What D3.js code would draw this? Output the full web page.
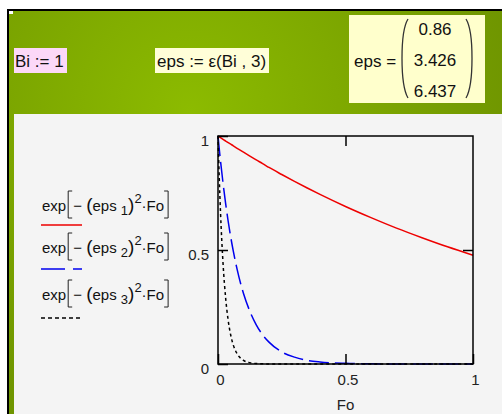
<!DOCTYPE html>
<html><head><meta charset="utf-8">
<script src="https://cdn.jsdelivr.net/npm/d3@7"></script>
<style>body{margin:0;background:#fff}svg{display:block;font-family:"Liberation Sans",Arial,sans-serif}</style>
</head><body>
<svg id="c" width="502" height="414"></svg>
<script>
// ---- data ----
const foValues = [0,0.005,0.01,0.02,0.03,0.04,0.05,0.06,0.075,0.1,0.125,0.15,0.175,0.2,0.25,0.3,0.35,0.4,0.5,0.6,0.7,0.8,0.9,1];
const curve1 = [1,0.996,0.993,0.985,0.978,0.971,0.964,0.957,0.946,0.929,0.912,0.895,0.879,0.862,0.831,0.801,0.772,0.744,0.691,0.642,0.596,0.554,0.514,0.477];
const curve2 = [1,0.943,0.889,0.791,0.703,0.625,0.556,0.495,0.415,0.309,0.231,0.172,0.128,0.096,0.053,0.030,0.016,0.009,0.003,0.001,0,0,0,0];
const curve3 = [1,0.813,0.661,0.437,0.289,0.191,0.126,0.083,0.045,0.016,0.006,0.002,0.001,0,0,0,0,0,0,0,0,0,0,0];
const seriesSubs = ["1","2","3"];
const epsValues = ["0.86","3.426","6.437"];
const xTicks = [0,0.5,1];
const yTicks = [0,0.5,1];
const xTitle = "Fo";

const svg = d3.select("#c");

// ---- background ----
const defs = svg.append("defs");
const rg = defs.append("radialGradient").attr("id","grn").attr("gradientUnits","userSpaceOnUse")
  .attr("cx",190).attr("cy",112).attr("r",330);
rg.append("stop").attr("offset","0").attr("stop-color","#8cbb00");
rg.append("stop").attr("offset","1").attr("stop-color","#6f9500");
svg.append("rect").attr("x",7).attr("y",9).attr("width",495).attr("height",405).attr("fill","#000");
svg.append("rect").attr("x",9).attr("y",11).attr("width",493).attr("height",403).attr("fill","url(#grn)");
svg.append("rect").attr("x",14).attr("y",114).attr("width",488).attr("height",300).attr("fill","#f4f4f4");
svg.append("rect").attr("x",9).attr("y",11).attr("width",4).attr("height",3).attr("fill","#fff");

// ---- header boxes ----
svg.append("rect").attr("x",14).attr("y",48).attr("width",53).attr("height",25).attr("fill","#fcd8f8");
svg.append("text").attr("x",15).attr("y",67).attr("font-size",17).attr("fill","#111").text("Bi := 1");
svg.append("rect").attr("x",155).attr("y",48).attr("width",114).attr("height",25).attr("fill","#fffed8");
svg.append("text").attr("x",157).attr("y",67).attr("font-size",17).attr("fill","#111").text("eps := \u03b5(Bi , 3)");
svg.append("rect").attr("x",349).attr("y",15).attr("width",136).attr("height",88).attr("fill","#ffffcc");
svg.append("text").attr("x",354).attr("y",67).attr("font-size",17).attr("fill","#111").text("eps =");
svg.append("path").attr("d","M408,19 C400,32 400,84 408,98").attr("fill","none").attr("stroke","#333").attr("stroke-width",1.3);
svg.append("path").attr("d","M466,19 C474,32 474,84 466,98").attr("fill","none").attr("stroke","#333").attr("stroke-width",1.3);
svg.selectAll("text.ev").data(epsValues).enter().append("text").attr("class","ev")
  .attr("x",435).attr("y",(d,i)=>35+i*31).attr("text-anchor","middle").attr("font-size",17).attr("fill","#111").text(d=>d);

// ---- plot ----
const x = d3.scaleLinear().domain([0,1]).range([218,473]);
const y = d3.scaleLinear().domain([0,1]).range([364,136]);

defs.append("clipPath").attr("id","clp").append("rect").attr("x",217).attr("y",134).attr("width",258).attr("height",231);

const styles = [
  {data:curve1, color:"#ee0000", dash:null},
  {data:curve2, color:"#0000ee", dash:"20,6"},
  {data:curve3, color:"#000", dash:"3,3"}
];
const line = d3.line().x((d,i)=>x(foValues[i])).y(d=>y(d)).curve(d3.curveMonotoneX);
const g = svg.append("g").attr("clip-path","url(#clp)");
styles.forEach(s=>{
  g.append("path").datum(s.data).attr("d",line).attr("fill","none").attr("stroke",s.color)
   .attr("stroke-width",1.5).attr("stroke-dasharray",s.dash);
});

// axes
const axStyle = sel => { sel.select(".domain").remove(); sel.selectAll("line").attr("stroke","#000").attr("stroke-width",1.5);
  sel.selectAll("text").attr("font-size",15).attr("fill","#222").attr("font-family","Liberation Sans, Arial, sans-serif"); };
const gb = svg.append("g").attr("transform","translate(0,364)")
  .call(d3.axisBottom(x).tickValues(xTicks).tickSize(-10).tickPadding(10).tickFormat(d3.format("")))
  .call(axStyle);
gb.selectAll(".tick text").attr("dx",2);
const gl = svg.append("g").attr("transform","translate(218,0)")
  .call(d3.axisLeft(y).tickValues(yTicks).tickSize(-10).tickPadding(9).tickFormat(d3.format("")))
  .call(axStyle);
gl.selectAll(".tick text").attr("dy","0.62em");
svg.append("g").attr("transform","translate(0,136)")
  .call(d3.axisTop(x).tickValues([0.5]).tickSize(-10).tickFormat(""))
  .call(axStyle);
svg.append("g").attr("transform","translate(473,0)")
  .call(d3.axisRight(y).tickValues([0.5]).tickSize(-10).tickFormat(""))
  .call(axStyle);
svg.append("rect").attr("x",218).attr("y",136).attr("width",255).attr("height",228)
  .attr("fill","none").attr("stroke","#000").attr("stroke-width",1.5);
svg.append("text").attr("x",x(0.5)).attr("y",410).attr("text-anchor","middle").attr("font-size",15).attr("fill","#222").text(xTitle);

// ---- legend ----
const rowsY = [211, 253, 300];
const lineY = [225, 269, 318];
seriesSubs.forEach((sub,i)=>{
  const by = rowsY[i];
  const t1 = svg.append("text").attr("x",42).attr("y",by).attr("font-size",15).attr("fill","#111").text("exp");
  const w1 = t1.node().getComputedTextLength();
  const bx = 42 + w1 + 2;
  svg.append("path").attr("d",`M${bx+4},${by-20} H${bx} V${by+7} H${bx+4}`).attr("fill","none").attr("stroke","#222").attr("stroke-width",1);
  const t2 = svg.append("text").attr("x",bx+5).attr("y",by).attr("font-size",15).attr("fill","#111");
  t2.append("tspan").text("\u2212 ");
  t2.append("tspan").attr("font-size",19).text("(");
  t2.append("tspan").text("eps ");
  t2.append("tspan").attr("dy",4).attr("font-size",13).text(sub);
  t2.append("tspan").attr("dy",-4).attr("font-size",19).text(")");
  t2.append("tspan").attr("dy",-8).attr("font-size",13).text("2");
  t2.append("tspan").attr("dy",8).text("\u00b7Fo");
  const w2 = t2.node().getComputedTextLength();
  const ex = bx + 5 + w2 + 4;
  svg.append("path").attr("d",`M${ex-4},${by-20} H${ex} V${by+7} H${ex-4}`).attr("fill","none").attr("stroke","#222").attr("stroke-width",1);
  svg.append("line").attr("x1",41).attr("x2",82).attr("y1",lineY[i]).attr("y2",lineY[i])
    .attr("stroke",styles[i].color).attr("stroke-width",1.5).attr("stroke-dasharray",i===1?"24,8":(i===2?"4,3":null));
});
</script>
</body></html>
